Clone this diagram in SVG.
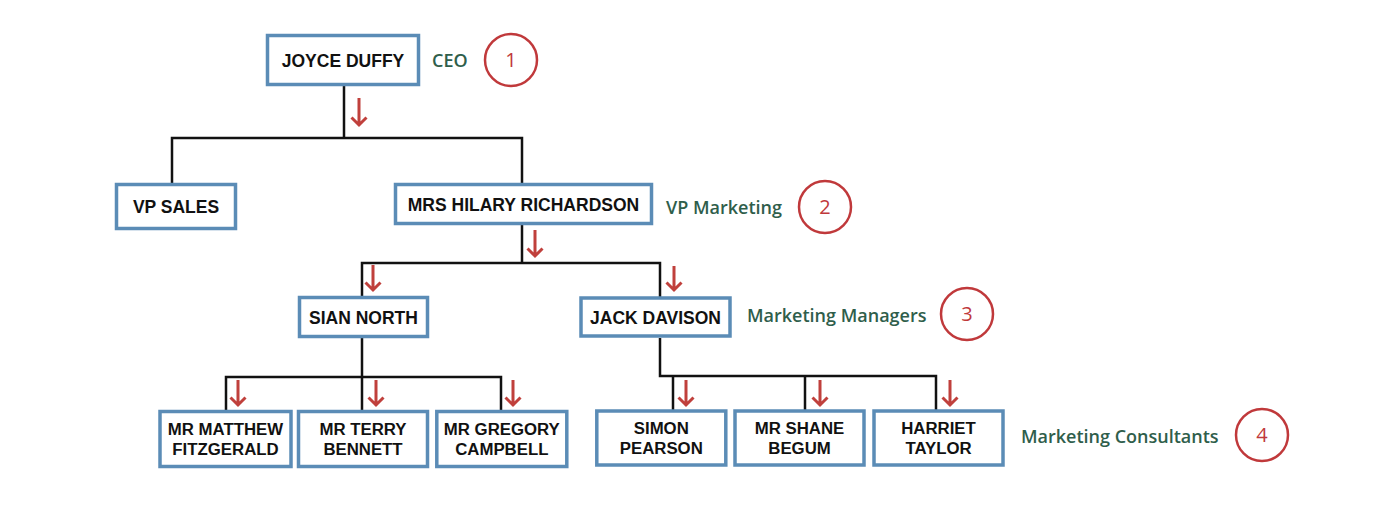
<svg xmlns="http://www.w3.org/2000/svg" width="1400" height="512" viewBox="0 0 1400 512">
<style>
.box{fill:#fff;stroke:#5b8cb6;stroke-width:3.5}
.nt{font-family:"Liberation Sans",Arial,sans-serif;font-weight:700;font-size:17.5px;fill:#111;text-anchor:middle}
.nt2{font-family:"Liberation Sans",Arial,sans-serif;font-weight:700;font-size:16.8px;fill:#111;text-anchor:middle}
.lbl{font-family:"Open Sans","Liberation Sans",sans-serif;font-weight:600;font-size:18px;fill:#2f5e4b}
.conn{fill:none;stroke:#111;stroke-width:2.5}
.arr{fill:none;stroke:#c0403c;stroke-width:3}
.circ{fill:#fff;stroke:#c0393b;stroke-width:2.5}
.num{font-family:"Open Sans","Liberation Sans",sans-serif;font-weight:500;font-size:20px;fill:#c0393b;text-anchor:middle}
</style>
<rect width="1400" height="512" fill="#fff"/>
<g id="connectors">
<path class="conn" d="M344 86V138M172 183V138H522V183"/>
<path class="conn" d="M522 225V263M362 296V263H660V297"/>
<path class="conn" d="M362 338V377M226 410V377H501V410M362 377V410"/>
<path class="conn" d="M660 338V376H936V410M673 376V410M805 376V410"/>
</g>
<g id="arrows">
<path class="arr" d="M359 98V125M351.5 117.5L359 125L366.5 117.5"/>
<path class="arr" d="M535 230V256M527.5 248.5L535 256L542.5 248.5"/>
<path class="arr" d="M373 265V290M365.5 282.5L373 290L380.5 282.5"/>
<path class="arr" d="M674 266V290M666.5 282.5L674 290L681.5 282.5"/>
<path class="arr" d="M238 380V405M230.5 397.5L238 405L245.5 397.5"/>
<path class="arr" d="M376 380V405M368.5 397.5L376 405L383.5 397.5"/>
<path class="arr" d="M513 380V405M505.5 397.5L513 405L520.5 397.5"/>
<path class="arr" d="M686 380V405M678.5 397.5L686 405L693.5 397.5"/>
<path class="arr" d="M820 380V405M812.5 397.5L820 405L827.5 397.5"/>
<path class="arr" d="M950 380V405M942.5 397.5L950 405L957.5 397.5"/>
</g>
<g id="n-joyce"><rect class="box" x="267.5" y="35.5" width="151" height="49"/><text class="nt" x="343" y="67">JOYCE DUFFY</text></g>
<g id="n-vpsales"><rect class="box" x="116.5" y="184.5" width="119" height="44"/><text class="nt" x="176" y="213">VP SALES</text></g>
<g id="n-hilary"><rect class="box" x="395.5" y="184.5" width="256" height="39"/><text class="nt" x="523.5" y="211">MRS HILARY RICHARDSON</text></g>
<g id="n-sian"><rect class="box" x="299.5" y="297.5" width="128" height="39"/><text class="nt" x="363.5" y="323.5">SIAN NORTH</text></g>
<g id="n-jack"><rect class="box" x="581" y="298" width="149" height="38"/><text class="nt" x="655.5" y="323.5">JACK DAVISON</text></g>
<g id="n-matthew"><rect class="box" x="160" y="411.5" width="131" height="55"/><text class="nt2" x="225.5" y="435">MR MATTHEW<tspan x="225.5" dy="20">FITZGERALD</tspan></text></g>
<g id="n-terry"><rect class="box" x="298.5" y="411.5" width="129" height="55"/><text class="nt2" x="363" y="435">MR TERRY<tspan x="363" dy="20">BENNETT</tspan></text></g>
<g id="n-gregory"><rect class="box" x="436.8" y="411.5" width="130" height="55"/><text class="nt2" x="501.8" y="435">MR GREGORY<tspan x="501.8" dy="20">CAMPBELL</tspan></text></g>
<g id="n-simon"><rect class="box" x="596.8" y="411" width="129" height="54"/><text class="nt2" x="661.3" y="434">SIMON<tspan x="661.3" dy="20">PEARSON</tspan></text></g>
<g id="n-shane"><rect class="box" x="735" y="411" width="129" height="54"/><text class="nt2" x="799.5" y="434">MR SHANE<tspan x="799.5" dy="20">BEGUM</tspan></text></g>
<g id="n-harriet"><rect class="box" x="874" y="411" width="129" height="54"/><text class="nt2" x="938.5" y="434">HARRIET<tspan x="938.5" dy="20">TAYLOR</tspan></text></g>
<g id="levels">
<text class="lbl" x="432" y="66.5">CEO</text>
<text class="lbl" x="666" y="214">VP Marketing</text>
<text class="lbl" x="747" y="321.5">Marketing Managers</text>
<text class="lbl" x="1021" y="443">Marketing Consultants</text>
<circle class="circ" cx="511" cy="60" r="26"/><text class="num" x="511" y="67">1</text>
<circle class="circ" cx="825" cy="207" r="26"/><text class="num" x="825" y="214">2</text>
<circle class="circ" cx="967" cy="314" r="26"/><text class="num" x="967" y="321">3</text>
<circle class="circ" cx="1262" cy="435" r="26"/><text class="num" x="1262" y="442">4</text>
</g>
</svg>
